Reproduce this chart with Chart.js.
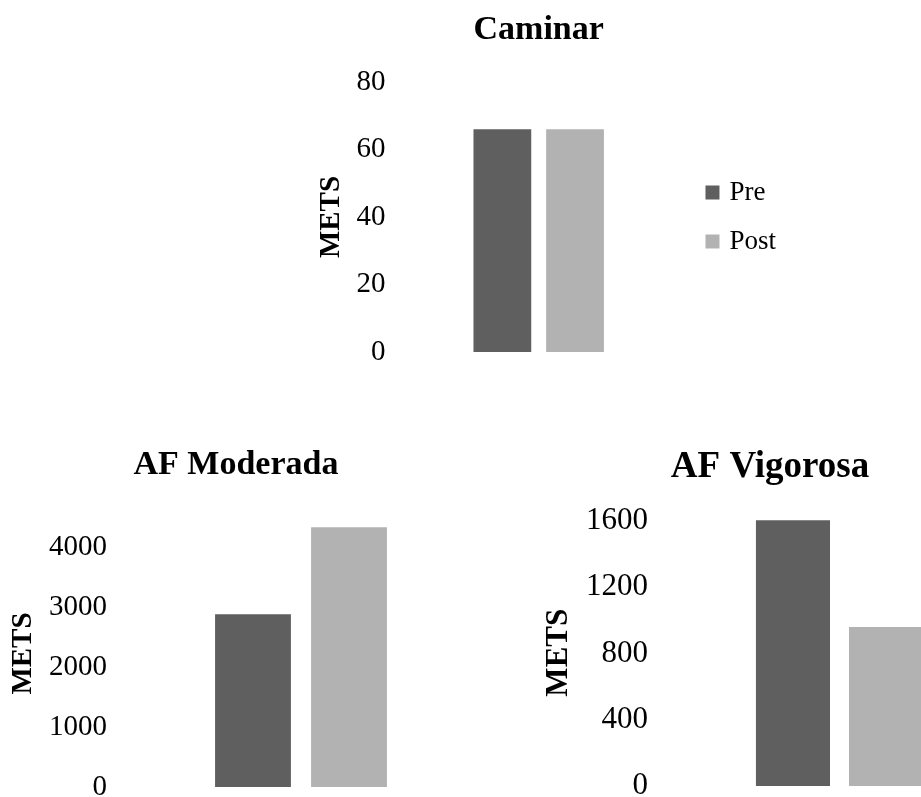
<!DOCTYPE html>
<html>
<head>
<meta charset="utf-8">
<script src="https://cdn.jsdelivr.net/npm/chart.js@4/dist/chart.umd.min.js"></script>
<style>
  html, body { margin: 0; padding: 0; background: #fff; overflow: hidden; }
  #wrap { position: relative; width: 921px; height: 797px; overflow: hidden; }
  canvas { position: absolute; }
</style>
</head>
<body>
<div id="wrap">
  <canvas id="caminar" width="486" height="380" style="left:300px;top:0px"></canvas>
  <canvas id="moderada" width="508" height="387" style="left:-18px;top:430px"></canvas>
  <canvas id="vigorosa" width="512" height="387" style="left:514px;top:430px"></canvas>
</div>
<script>
// datos
const series = ['Pre', 'Post'];
const colores = ['#5f5f5f', '#b2b2b2'];
const caminar = [66, 66];
const moderada = [2880, 4330];
const vigorosa = [1605, 960];
const ticksCaminar = [0, 20, 40, 60, 80];
const ticksModerada = [0, 1000, 2000, 3000, 4000];
const ticksVigorosa = [0, 400, 800, 1200, 1600];

Chart.defaults.font.family = "'Liberation Serif', 'Times New Roman', serif";
Chart.defaults.color = '#000';
Chart.defaults.animation = false;

function hacerGrafico(id, titulo, valores, ticks, o) {
    new Chart(document.getElementById(id), {
        type: 'bar',
        data: {
            labels: [''],
            datasets: series.map((s, i) => ({
                label: s,
                data: [valores[i]],
                backgroundColor: colores[i],
                categoryPercentage: o.catPct,
                barPercentage: o.barPct
            }))
        },
        options: {
            responsive: false,
            layout: { padding: o.layout },
            plugins: {
                title: {
                    display: true,
                    text: titulo,
                    font: { size: o.titleSize, weight: 'bold' },
                    padding: o.titlePad,
                    fullSize: o.titleFull
                },
                legend: o.legend ? {
                    position: 'right',
                    fullSize: false,
                    labels: {
                        usePointStyle: true,
                        pointStyle: 'rect',
                        boxWidth: 7,
                        boxHeight: 14,
                        padding: 22,
                        font: { size: 27 }
                    }
                } : { display: false },
                tooltip: { enabled: false }
            },
            scales: {
                x: { display: false },
                y: {
                    min: 0,
                    max: o.max,
                    afterBuildTicks: scale => {
                        scale.ticks = ticks.map(v => ({ value: v }));
                    },
                    grid: { display: false, drawTicks: false },
                    border: { display: false },
                    ticks: {
                        font: { size: o.tickSize },
                        padding: 5,
                        callback: v => String(v)
                    },
                    title: {
                        display: true,
                        text: 'METS',
                        font: { size: o.axisSize, weight: 'bold' },
                        padding: o.axisPad
                    }
                }
            }
        }
    });
}

hacerGrafico('caminar', 'Caminar', caminar, ticksCaminar, {
    max: 80, catPct: 0.49, barPct: 0.795, legend: true, titleFull: false,
    titleSize: 34, titlePad: { top: 10, bottom: 31.2 },
    tickSize: 29, axisSize: 29, axisPad: { top: 4, bottom: 2 },
    layout: { left: 10.6, right: 0, top: 0, bottom: 28 }
});

hacerGrafico('moderada', 'AF Moderada', moderada, ticksModerada, {
    max: 4450, catPct: 0.508, barPct: 0.79, legend: false, titleFull: true,
    titleSize: 34, titlePad: { top: 15, bottom: 34.2 },
    tickSize: 29, axisSize: 29, axisPad: { top: 24.6, bottom: 2.6 },
    layout: { left: 0, right: 0, top: 0, bottom: 30 }
});

hacerGrafico('vigorosa', 'AF Vigorosa', vigorosa, ticksVigorosa, {
    max: 1610, catPct: 0.499, barPct: 0.796, legend: false, titleFull: true,
    titleSize: 37, titlePad: { top: 15, bottom: 30 },
    tickSize: 31, axisSize: 31, axisPad: { top: 26.4, bottom: 3.4 },
    layout: { left: 0, right: 0, top: 0, bottom: 31 }
});
</script>
</body>
</html>
